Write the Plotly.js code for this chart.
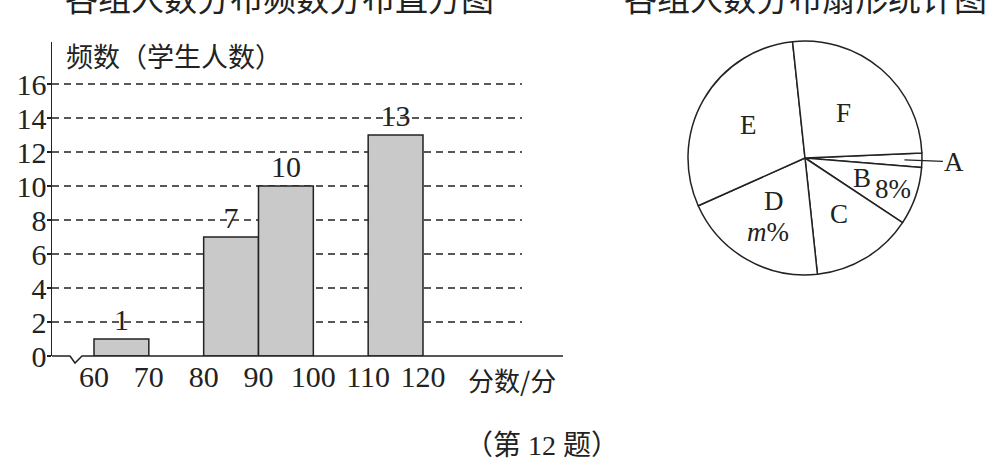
<!DOCTYPE html>
<html>
<head>
<meta charset="utf-8">
<script src="https://cdn.plot.ly/plotly-3.0.1.min.js"></script>
<style>html,body{margin:0;padding:0;background:#fff;}#chart{width:991px;height:462px;}</style>
</head>
<body>
<div id="chart"></div>
<script>
// ---------- data ----------
const binStarts = [60, 80, 90, 110];
const binWidth = 10;
const counts = [1, 7, 10, 13];
const xTickVals = [60, 70, 80, 90, 100, 110, 120];
const yTickVals = [0, 2, 4, 6, 8, 10, 12, 14, 16];
const sliceLabels = ['A', 'B', 'C', 'D', 'E', 'F'];
const sliceValues = [1, 4, 7, 10, 15, 13];
const titleLeft = '各组人数分布频数分布直方图';
const titleRight = '各组人数分布扇形统计图';
const yTitle = '频数（学生人数）';
const xTitle = '分数/分';
const caption = '（第 12 题）';
const bPercent = '8%';
const dPercent = '<i>m</i>%';

// ---------- layout constants ----------
const W = 991, H = 462;
const INK = '#222';
const SERIF = 'Liberation Serif, Times New Roman, Noto Sans CJK SC, serif';
const CJK = 'Noto Sans CJK SC, sans-serif';

// histogram geometry (pixels)
const originPx = {x: 52, y: 356};
const x60Px = 94, x120Px = 423, axisEndPx = 563, gridEndPx = 522, yTopPx = 42;
const pxPerX = (x120Px - x60Px) / 60;
const pxPerY = 17;
const xRange = [60 - (x60Px - originPx.x) / pxPerX, 60 + (axisEndPx - x60Px) / pxPerX];
const yRange = [0, (originPx.y - yTopPx) / pxPerY];
const xDomain = [originPx.x / W, axisEndPx / W];
const yDomain = [1 - originPx.y / H, 1 - yTopPx / H];
const gridEndX = 60 + (gridEndPx - x60Px) / pxPerX;

const PX = (x) => x / W;
const PY = (y) => 1 - y / H;

// pie geometry
const pieC = {x: 805, y: 158}, pieR = 117;
const pieDomain = {x: [PX(pieC.x - pieR), PX(pieC.x + pieR)], y: [PY(pieC.y + pieR), PY(pieC.y - pieR)]};
const pieRotation = 87.5;

// ---------- traces ----------
const bars = {
  type: 'bar',
  x: binStarts.map(s => s + binWidth / 2),
  y: counts,
  width: binStarts.map(() => binWidth),
  marker: {color: '#c9c9c9', line: {color: INK, width: 1.5}},
  text: counts.map(String),
  textposition: 'outside',
  cliponaxis: false,
  textfont: {family: SERIF, size: 30, color: INK},
  hoverinfo: 'skip'
};

const pie = {
  type: 'pie',
  labels: sliceLabels,
  values: sliceValues,
  sort: false,
  direction: 'clockwise',
  rotation: pieRotation,
  textinfo: 'none',
  hoverinfo: 'skip',
  domain: pieDomain,
  marker: {colors: sliceLabels.map(() => '#ffffff'), line: {color: INK, width: 1.5}}
};

// ---------- shapes ----------
const shapes = [];
yTickVals.filter(v => v > 0).forEach(v => {
  shapes.push({type: 'line', layer: 'below', xref: 'x', yref: 'y', x0: xRange[0], x1: gridEndX, y0: v, y1: v,
    line: {color: INK, width: 1.5, dash: '7px,5px'}});
});
// x axis with break
const zig = [[originPx.x, 0], [70, 0], [75, 7], [82, 0], [axisEndPx, 0]];
shapes.push({type: 'path', xref: 'paper', yref: 'paper', layer: 'above',
  path: zig.map((p, i) => (i ? 'L' : 'M') + PX(p[0]) + ',' + PY(originPx.y + p[1])).join(' '),
  line: {color: INK, width: 1.5}});

// ---------- annotations ----------
const ann = [];
ann.push({xref: 'paper', yref: 'paper', x: PX(63), y: PY(-3), xanchor: 'left', yanchor: 'middle', showarrow: false,
  text: titleLeft, font: {family: CJK, size: 33, color: INK}});
ann.push({xref: 'paper', yref: 'paper', x: PX(622), y: PY(-3), xanchor: 'left', yanchor: 'middle', showarrow: false,
  text: titleRight, font: {family: CJK, size: 33, color: INK}});
ann.push({xref: 'paper', yref: 'paper', x: PX(64), y: PY(55), xanchor: 'left', yanchor: 'middle', showarrow: false,
  text: yTitle, font: {family: CJK, size: 27, color: INK}});
ann.push({xref: 'paper', yref: 'paper', x: PX(512), y: PY(379), xanchor: 'center', yanchor: 'middle', showarrow: false,
  text: xTitle, font: {family: CJK, size: 26, color: INK}});
ann.push({xref: 'paper', yref: 'paper', x: PX(542), y: PY(445), xanchor: 'center', yanchor: 'middle', showarrow: false,
  text: caption, font: {family: SERIF, size: 28, color: INK}});

// pie labels from slice geometry
const total = sliceValues.reduce((a, b) => a + b, 0);
let cum = 0;
const mid = {};
sliceLabels.forEach((l, i) => {
  mid[l] = pieRotation + 360 * (cum + sliceValues[i] / 2) / total;
  cum += sliceValues[i];
});
function piePoint(label, frac) {
  const t = mid[label] * Math.PI / 180;
  return {x: PX(pieC.x + pieR * frac * Math.sin(t)), y: PY(pieC.y - pieR * frac * Math.cos(t))};
}
const pieFont = {family: SERIF, size: 27, color: INK};
function pieText(label, frac, text, dx, dy, font) {
  const p = piePoint(label, frac);
  ann.push({xref: 'paper', yref: 'paper', x: p.x, y: p.y, xshift: dx || 0, yshift: dy || 0,
    xanchor: 'center', yanchor: 'middle', showarrow: false, text: text, font: font || pieFont});
}
pieText('E', 0.56, 'E');
pieText('F', 0.51, 'F');
pieText('C', 0.56, 'C');
pieText('D', 0.57, 'D', 2, 15);
pieText('D', 0.57, dPercent, -4, -16);
pieText('B', 0.52, 'B');
pieText('B', 0.80, bPercent);
const aTip = piePoint('A', 0.85);
ann.push({xref: 'paper', yref: 'paper', x: aTip.x, y: aTip.y, showarrow: true, arrowhead: 0, arrowwidth: 1.2,
  arrowcolor: INK, ax: 50, ay: 2, axref: 'pixel', ayref: 'pixel', text: 'A', font: pieFont});

// ---------- layout ----------
const layout = {
  width: W, height: H,
  margin: {l: 0, r: 0, t: 0, b: 0, pad: 0},
  paper_bgcolor: '#ffffff', plot_bgcolor: 'rgba(0,0,0,0)',
  showlegend: false,
  xaxis: {domain: xDomain, range: xRange, showline: false, showgrid: false, zeroline: false,
    tickmode: 'array', tickvals: xTickVals, ticktext: xTickVals.map(String), ticks: '',
    tickfont: {family: SERIF, size: 30, color: INK}, fixedrange: true},
  yaxis: {domain: yDomain, range: yRange, showline: true, linecolor: INK, linewidth: 1.5,
    showgrid: false, zeroline: false, tickmode: 'array', tickvals: yTickVals, ticktext: yTickVals.map(String),
    ticks: 'outside', ticklen: 4, tickwidth: 1.5, tickcolor: INK, ticklabelstandoff: -6,
    tickfont: {family: SERIF, size: 30, color: INK}, fixedrange: true},
  shapes: shapes,
  annotations: ann
};

Plotly.newPlot('chart', [bars, pie], layout, {staticPlot: true, displayModeBar: false});
</script>
</body>
</html>
